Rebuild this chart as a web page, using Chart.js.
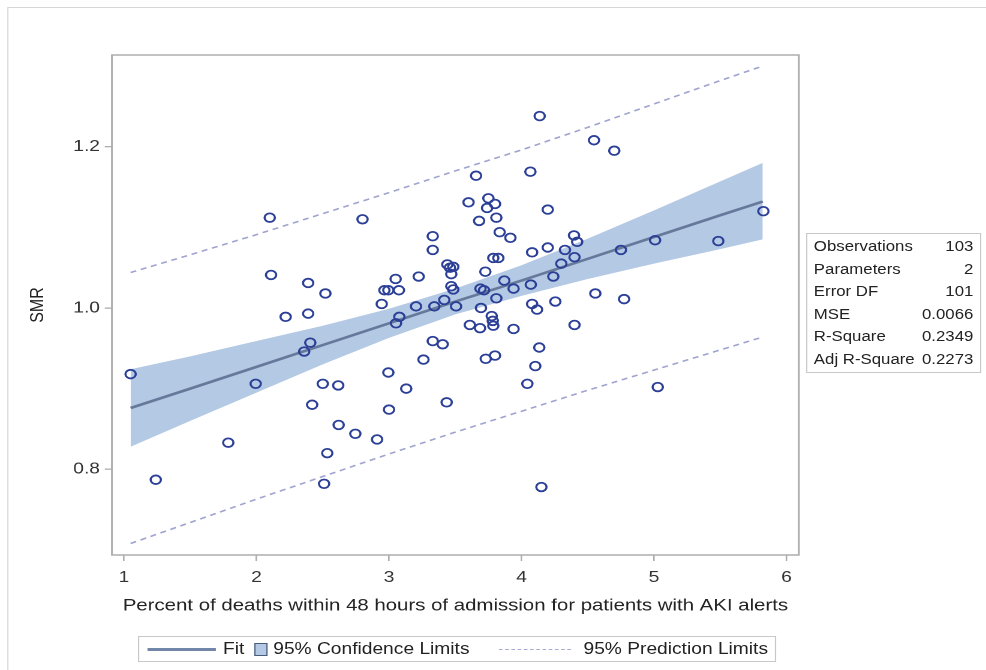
<!DOCTYPE html>
<html>
<head>
<meta charset="utf-8">
<script src="https://cdn.jsdelivr.net/npm/chart.js@4.4.1/dist/chart.umd.min.js"></script>
<style>
  body { margin: 0; background: #fff; font-family: "Liberation Sans", Arial, sans-serif; }
  #page { position: relative; width: 986px; height: 670px; overflow: hidden; }
  /* the original figure is stretched sideways, so everything is laid out 822px wide and scaled */
  #wrap { position: absolute; left: 0; top: 0; width: 822px; height: 670px; transform: scale(1.1995, 1); transform-origin: 0 0; }
  #outer { position: absolute; left: 5.5px; top: 7px; width: 830px; height: 680px; border: 1px solid #d6d6d6; box-sizing: border-box; }
  canvas { position: absolute; left: 0; top: 0; }
  #stats { position: absolute; left: 671.5px; top: 233px; width: 146px; height: 140px; border: 1px solid #c8c8c8; box-sizing: border-box; padding: 1px 5px 0 6px; font-size: 14px; color: #222; }
  #stats div { display: flex; justify-content: space-between; height: 22.6px; line-height: 22.6px; }
  #legend { position: absolute; left: 115px; top: 636px; width: 532px; height: 26px; border: 1px solid #c8c8c8; box-sizing: border-box; font-size: 16px; color: #222; display: flex; align-items: center; padding-left: 7px; white-space: nowrap; }
  .ln { display: inline-block; width: 57px; height: 0; border-top: 3px solid #7186a8; margin-right: 6px; }
  .sq { display: inline-block; width: 9px; height: 11px; background: #b4c9e4; border: 1px solid #4a5a7a; margin: 0 5px 0 8px; }
  .ds { display: inline-block; width: 60px; height: 0; border-top: 1.3px dashed #a6aad2; margin: 0 10px 0 25px; }
</style>
</head>
<body>
<div id="page">
<div id="wrap">
  <div id="outer"></div>
  <canvas id="chart" width="822" height="670"></canvas>
  <div id="stats"></div>
  <div id="legend">
    <span class="ln"></span>Fit<span class="sq"></span>95% Confidence Limits<span class="ds"></span>95% Prediction Limits
  </div>
</div>
</div>
<script>
// observed hospitals
const obsX = [1.05, 1.24, 1.787, 1.994, 2.10, 2.11, 2.22, 2.39, 2.39, 2.52,
  2.406, 2.36, 2.50, 2.617, 2.42, 2.62, 2.534, 2.51, 2.746, 2.80,
  4.137, 4.067, 3.657, 3.60, 3.75, 3.80, 3.74, 4.198, 3.68, 3.81,
  3.835, 3.916, 3.33, 3.33, 4.08, 4.198, 3.787, 3.825, 3.44, 3.485,
  3.46, 3.47, 3.727, 3.05, 3.224, 3.87, 4.328, 4.30, 4.24, 4.07,
  3.47, 3.485, 2.965, 2.995, 3.075, 3.69, 3.717, 2.945, 3.204, 3.342,
  3.417, 3.506, 3.078, 3.053, 3.694, 3.61, 3.687, 3.33, 3.405, 3.73,
  3.26, 2.995, 3.13, 3.435, 3.0, 3.81, 3.94, 4.08, 4.117, 4.255,
  3.775, 3.783, 3.787, 3.94, 3.80, 4.134, 4.104, 4.044, 2.91, 4.15,
  4.396, 4.42, 4.40, 4.557, 4.40, 4.75, 4.774, 4.547, 4.70, 5.825,
  5.485, 5.008, 5.028];
const obsY = [0.918, 0.787, 0.833, 0.906, 1.112, 1.041, 0.989, 0.993, 1.031, 1.018,
  0.957, 0.946, 0.906, 0.904, 0.880, 0.855, 0.820, 0.782, 0.844, 1.110,
  1.238, 1.169, 1.164, 1.131, 1.136, 1.129, 1.124, 1.122, 1.108, 1.112,
  1.094, 1.087, 1.089, 1.072, 1.069, 1.075, 1.062, 1.062, 1.054, 1.051,
  1.050, 1.042, 1.045, 1.036, 1.039, 1.034, 1.072, 1.055, 1.039, 1.029,
  1.027, 1.023, 1.022, 1.022, 1.022, 1.024, 1.022, 1.005, 1.002, 1.002,
  1.010, 1.002, 0.989, 0.981, 1.000, 0.979, 0.975, 0.959, 0.955, 0.937,
  0.936, 0.920, 0.900, 0.883, 0.874, 1.012, 1.024, 1.005, 0.998, 1.008,
  0.990, 0.984, 0.978, 0.974, 0.941, 0.951, 0.928, 0.906, 0.837, 0.778,
  1.090, 1.082, 1.063, 1.018, 0.979, 1.072, 1.011, 1.208, 1.195, 1.120,
  1.083, 1.084, 0.902];

// fit and limits
const lineX   = [1.05, 1.5, 2, 2.5, 3, 3.5, 4, 4.5, 5, 5.5, 5.82];
const fitY    = [0.876, 0.900, 0.927, 0.954, 0.981, 1.008, 1.034, 1.061, 1.088, 1.115, 1.132];
const clUpper = [0.924, 0.940, 0.959, 0.978, 0.999, 1.024, 1.053, 1.086, 1.121, 1.157, 1.180];
const clLower = [0.828, 0.860, 0.895, 0.930, 0.963, 0.992, 1.015, 1.036, 1.055, 1.073, 1.085];
const plUpper = [1.044, 1.066, 1.091, 1.117, 1.143, 1.170, 1.196, 1.224, 1.253, 1.282, 1.300];
const plLower = [0.708, 0.734, 0.763, 0.791, 0.819, 0.846, 0.872, 0.898, 0.923, 0.948, 0.964];

const xTicks = [1, 2, 3, 4, 5, 6];
const yTicks = [0.8, 1.0, 1.2];

const statLabels = ['Observations', 'Parameters', 'Error DF', 'MSE', 'R-Square', 'Adj R-Square'];
const statValues = ['103', '2', '101', '0.0066', '0.2349', '0.2273'];

const statsBox = document.getElementById('stats');
statLabels.forEach((lab, i) => {
  const row = document.createElement('div');
  row.innerHTML = '<span>' + lab + '</span><span>' + statValues[i] + '</span>';
  statsBox.appendChild(row);
});

const pts = (xs, ys) => xs.map((x, i) => ({ x: x, y: ys[i] }));

const framePlugin = {
  id: 'frame',
  afterDraw(chart) {
    const { ctx, chartArea: a } = chart;
    ctx.save();
    ctx.strokeStyle = '#adadad';
    ctx.lineWidth = 1.5;
    ctx.strokeRect(a.left, a.top, a.right - a.left, a.bottom - a.top);
    ctx.restore();
  }
};

const lineStyle = { pointRadius: 0, tension: 0, fill: false };
const axisFont = { family: 'Liberation Sans', size: 16 };

new Chart(document.getElementById('chart'), {
  type: 'line',
  data: {
    datasets: [
      {
        type: 'scatter',
        label: 'SMR',
        data: pts(obsX, obsY),
        pointStyle: 'circle',
        pointRadius: 4.3,
        pointBorderWidth: 1.8,
        borderColor: '#2b3f96',
        backgroundColor: 'rgba(0,0,0,0)'
      },
      { ...lineStyle, label: 'Fit', data: pts(lineX, fitY), borderColor: '#66799a', borderWidth: 2.6 },
      { ...lineStyle, label: 'Upper PL', data: pts(lineX, plUpper), borderColor: '#a0a4cf', borderWidth: 1.6, borderDash: [5, 4] },
      { ...lineStyle, label: 'Lower PL', data: pts(lineX, plLower), borderColor: '#a0a4cf', borderWidth: 1.6, borderDash: [5, 4] },
      { ...lineStyle, label: 'Upper CL', data: pts(lineX, clUpper), borderWidth: 0, borderColor: 'rgba(0,0,0,0)', fill: '+1', backgroundColor: '#b4c9e4' },
      { ...lineStyle, label: 'Lower CL', data: pts(lineX, clLower), borderWidth: 0, borderColor: 'rgba(0,0,0,0)' }
    ]
  },
  options: {
    responsive: false,
    animation: false,
    devicePixelRatio: 2,
    layout: { padding: { left: 18, top: 55, right: 156, bottom: 50 } },
    plugins: { legend: { display: false }, tooltip: { enabled: false } },
    scales: {
      x: {
        type: 'linear',
        min: 0.909,
        max: 6.093,
        afterBuildTicks: s => { s.ticks = xTicks.map(v => ({ value: v })); },
        afterFit: s => { s.height = 65; },
        grid: { drawOnChartArea: false, drawTicks: true, tickLength: 6, color: '#adadad', lineWidth: 1.3 },
        border: { display: false },
        ticks: { padding: 7, color: '#333', font: axisFont },
        title: { display: true, text: 'Percent of deaths within 48 hours of admission for patients with AKI alerts', color: '#222', font: { family: 'Liberation Sans', size: 17 }, padding: { top: 4, bottom: 4 } }
      },
      y: {
        min: 0.6937,
        max: 1.3137,
        afterBuildTicks: s => { s.ticks = yTicks.map(v => ({ value: v })); },
        afterFit: s => { s.width = 75.3; },
        grid: { drawOnChartArea: false, drawTicks: true, tickLength: 6, color: '#adadad', lineWidth: 1.3 },
        border: { display: false },
        ticks: { padding: 4, color: '#333', font: axisFont, callback: v => v.toFixed(1) },
        title: { display: true, text: 'SMR', color: '#222', font: { family: 'Liberation Sans', size: 16 }, padding: { top: 4, bottom: 4 } }
      }
    }
  },
  plugins: [framePlugin]
});
</script>
</body>
</html>
